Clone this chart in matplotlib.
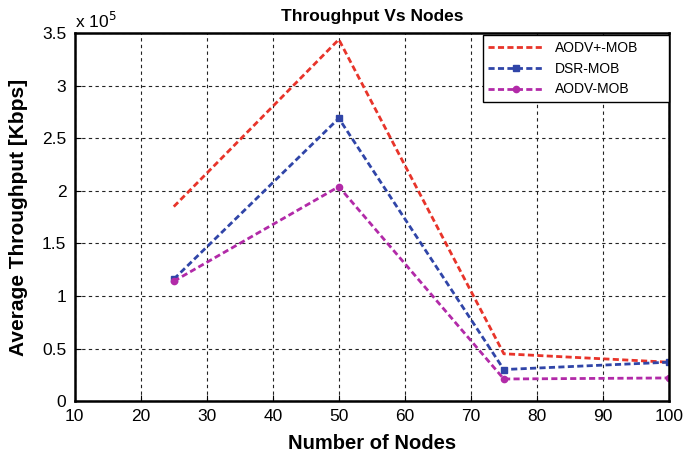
import matplotlib.pyplot as plt

nodes = [25, 50, 75, 100]
# throughput values in units of 1e5 Kbps
aodv_plus_mob = [1.85, 3.44, 0.45, 0.37]
dsr_mob = [1.16, 2.69, 0.30, 0.37]
aodv_mob = [1.14, 2.04, 0.21, 0.22]

plt.rcParams["font.family"] = ["Liberation Sans", "DejaVu Sans"]


def main():
    fig = plt.figure(figsize=(6.86, 4.61), dpi=100)
    ax = fig.add_axes([0.109, 0.130, 0.866, 0.798])

    dash = (0, (2.2, 1.2))
    ax.plot(nodes, aodv_plus_mob, linestyle=dash, color="#e8342a", lw=2,
            label="AODV+-MOB")
    ax.plot(nodes, dsr_mob, linestyle=dash, color="#3045a8", lw=2, marker="s",
            ms=4.5, label="DSR-MOB")
    ax.plot(nodes, aodv_mob, linestyle=dash, color="#b22aa8", lw=2, marker="o",
            ms=4.5, label="AODV-MOB")

    ax.set_xlim(10, 100)
    ax.set_ylim(0, 3.5)
    ax.set_xticks(range(10, 101, 10))
    ax.set_yticks([0, 0.5, 1, 1.5, 2, 2.5, 3, 3.5])
    ax.set_yticklabels(["0", "0.5", "1", "1.5", "2", "2.5", "3", "3.5"])
    ax.tick_params(labelsize=12.5, direction="in", length=4, pad=6)
    ax.grid(True, color="#222222", linestyle=(0, (3, 3)), lw=0.8)
    for s in ax.spines.values():
        s.set_linewidth(1.8)

    ax.text(0.0, 1.005, r"x 10$^5$", transform=ax.transAxes, fontsize=12.5,
            ha="left", va="bottom")
    ax.set_title("Throughput Vs Nodes", fontsize=12.5, fontweight="bold", pad=9)
    ax.set_xlabel("Number of Nodes", fontsize=14.5, fontweight="bold", labelpad=7)
    ax.set_ylabel("Average Throughput [Kbps]", fontsize=15, fontweight="bold",
                  labelpad=10)

    leg = ax.legend(loc="upper left", bbox_to_anchor=(0.687, 0.818, 0.313, 0.177),
                    mode="expand", borderaxespad=0, fontsize=10, fancybox=False,
                    edgecolor="black", framealpha=1, handlelength=4)
    leg.get_frame().set_linewidth(1.0)

    fig.savefig("out.png")


if __name__ == "__main__":
    main()
